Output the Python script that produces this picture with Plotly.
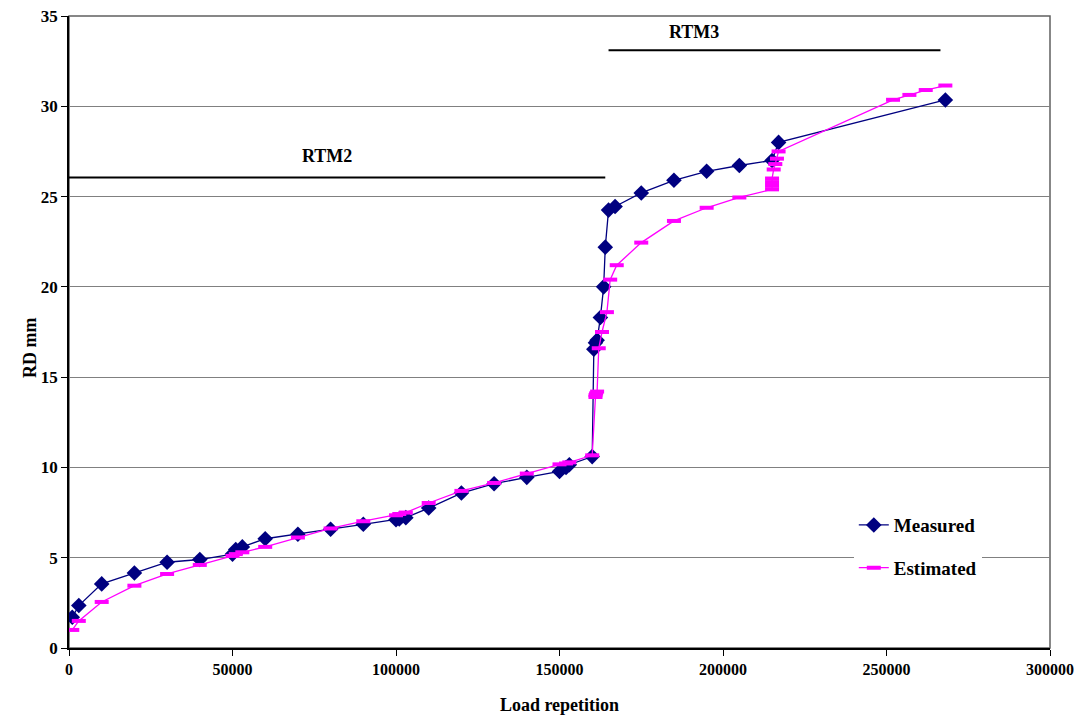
import plotly.graph_objects as go

# Measured rut depth
meas_x = [1000, 3000, 10000, 20000, 30000, 40000, 50000, 51000, 53000, 60000,
          70000, 80000, 90000, 100000, 101000, 103000, 110000, 120000, 130000,
          140000, 150000, 152000, 153000, 160000, 160500, 161000, 161500, 162500,
          163500, 164000, 165000, 167000, 175000, 185000, 195000, 205000, 215000,
          217000, 268000]
meas_y = [1.7, 2.35, 3.55, 4.15, 4.75, 4.9, 5.2, 5.45, 5.6, 6.05,
          6.3, 6.58, 6.85, 7.1, 7.15, 7.22, 7.75, 8.58, 9.1,
          9.45, 9.78, 10.0, 10.15, 10.6, 16.55, 16.9, 17.05, 18.3,
          20.0, 22.2, 24.25, 24.45, 25.2, 25.9, 26.4, 26.72, 27.0,
          28.0, 30.35]

# Estimated rut depth
est_x = [1000, 3000, 10000, 20000, 30000, 40000, 50000, 51000, 53000, 60000,
         70000, 80000, 90000, 100000, 101000, 103000, 110000, 120000, 130000,
         140000, 150000, 152000, 153000, 160000, 161000, 161000, 161200, 161500,
         162000, 163000, 164500, 165500, 167500, 175000, 185000, 195000, 205000,
         215000, 215000, 215000, 215000, 215500, 216000, 216500, 217000, 252000,
         257000, 262000, 268000]
est_y = [1.0, 1.5, 2.55, 3.45, 4.1, 4.6, 5.1, 5.2, 5.3, 5.6,
         6.12, 6.62, 7.02, 7.35, 7.42, 7.5, 8.03, 8.7, 9.14,
         9.66, 10.17, 10.22, 10.28, 10.67, 13.9, 14.0, 14.1, 14.2,
         16.6, 17.5, 18.6, 20.4, 21.2, 22.45, 23.65, 24.38, 24.95,
         25.4, 25.6, 25.8, 26.0, 26.5, 26.8, 27.1, 27.5, 30.36,
         30.63, 30.9, 31.15]

x_ticks = [0, 50000, 100000, 150000, 200000, 250000, 300000]

fig = go.Figure()
fig.add_trace(go.Scatter(
    x=meas_x, y=meas_y, name='Measured', mode='lines+markers',
    line=dict(color='#000080', width=1.3),
    marker=dict(symbol='diamond', size=12, color='#000080'),
    legendgroup='m'))
fig.add_trace(go.Scatter(
    x=est_x, y=est_y, name='Estimated', mode='lines+markers',
    line=dict(color='#FF00FF', width=1.3),
    marker=dict(symbol='line-ew', size=10, color='#FF00FF',
                line=dict(color='#FF00FF', width=4)),
    legendgroup='e'))

# plot area border (top / right)
fig.add_shape(type='rect', xref='paper', yref='paper', x0=0, x1=1, y0=0, y1=1,
              line=dict(color='#606060', width=1.5), layer='below')

# RTM period markers
fig.add_shape(type='line', x0=0, x1=164000, y0=26.05, y1=26.05,
              line=dict(color='black', width=2))
fig.add_shape(type='line', x0=165000, x1=266500, y0=33.1, y1=33.1,
              line=dict(color='black', width=2))
fig.add_annotation(x=79000, y=27.25, text='<b>RTM2</b>', showarrow=False,
                   font=dict(size=18, family='Liberation Serif', color='black'))
fig.add_annotation(x=191000, y=34.1, text='<b>RTM3</b>', showarrow=False,
                   font=dict(size=18, family='Liberation Serif', color='black'))

# y title as annotation so it can sit close to the page edge
fig.add_annotation(xref='paper', yref='paper', x=0, y=0.5, xshift=-51, yshift=-16,
                   text='<b>RD mm</b>', textangle=-90, showarrow=False,
                   font=dict(size=18, family='Liberation Serif', color='black'))

# the page puts the figure 8px in from the top-left corner
fig.update_layout(
    width=1082, height=719,
    margin=dict(l=61, r=40, t=8, b=79),
    plot_bgcolor='white', paper_bgcolor='white',
    font=dict(family='Liberation Serif', size=17, color='black'),
    legend=dict(x=0.8, y=0.2245, xanchor='left', yanchor='top',
                bgcolor='white', tracegroupgap=15,
                font=dict(size=19, family='Liberation Serif', weight='bold')),
    xaxis=dict(range=[0, 300000], tickvals=x_ticks,
               tickformat='d', showgrid=False, zeroline=False, automargin=False,
               ticklabeloverflow='allow',
               showline=True, linecolor='black', linewidth=1.5,
               ticks='outside', ticklen=6, tickcolor='black',
               tickfont=dict(size=16, weight='bold'),
               title=dict(text='<b>Load repetition</b>', font=dict(size=18), standoff=21)),
    yaxis=dict(range=[0, 35], dtick=5, showgrid=True, gridcolor='#808080', gridwidth=1,
               zeroline=False, automargin=False, ticklabeloverflow='allow',
               showline=True, linecolor='black', linewidth=1.5,
               ticks='outside', ticklen=6, tickcolor='black',
               tickfont=dict(size=17, weight='bold')),
)

fig.write_html("out.html")
